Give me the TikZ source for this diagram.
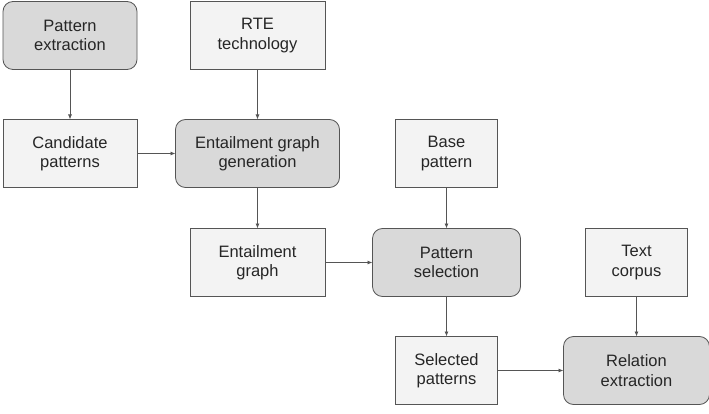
\documentclass[tikz,border=0pt]{standalone}
\usepackage{fontspec}
\setmainfont{Liberation Sans}
\usepackage{tikz}
\usetikzlibrary{positioning, arrows.meta}

\definecolor{stepgray}{HTML}{D9D9D9}
\definecolor{datagray}{HTML}{F3F3F3}
\definecolor{linegray}{HTML}{555555}

\tikzset{
    stepbox/.style={draw=linegray, line width=0.8pt, outer sep=0pt, rounded corners=10pt, fill=stepgray, minimum height=68pt, align=center, font=\fontsize{16.5}{19.5}\selectfont, text=black!85},
    databox/.style={draw=linegray, line width=0.8pt, outer sep=0pt, fill=datagray, minimum height=68pt, align=center, font=\fontsize{16.5}{19.5}\selectfont, text=black!85},
    flow/.style={-{Latex[length=5pt,width=4pt]}, draw=linegray, line width=0.8pt}
}

\begin{document}
\begin{tikzpicture}
            \useasboundingbox (0,0) rectangle (709pt,-414pt);
            \node[stepbox, minimum width=134pt] (extract) at (70pt,-35.5pt) {Pattern\\extraction};
            \node[databox, minimum width=135pt, right=53pt of extract] (rte) {RTE\\technology};
            \node[databox, minimum width=134pt, below=50pt of extract] (cand) {Candidate\\patterns};
            \node[stepbox, minimum width=164pt, below=50pt of rte] (gen) {Entailment graph\\generation};
            \node[databox, minimum width=102pt, right=56pt of gen] (base) {Base\\pattern};
            \node[databox, minimum width=135pt, below=41pt of gen] (egraph) {Entailment\\graph};
            \node[stepbox, minimum width=148pt, below=41pt of base] (select) {Pattern\\selection};
            \node[databox, minimum width=102pt, right=65pt of select] (corpus) {Text\\corpus};
            \node[databox, minimum width=102pt, below=40pt of select] (chosen) {Selected\\patterns};
            \node[stepbox, minimum width=146pt, below=40pt of corpus] (relext) {Relation\\extraction};
            \draw[flow] (extract) -- (cand);
            \draw[flow] (rte) -- (gen);
            \draw[flow] (cand) -- (gen);
            \draw[flow] (gen) -- (egraph);
            \draw[flow] (egraph) -- (select);
            \draw[flow] (base) -- (select);
            \draw[flow] (select) -- (chosen);
            \draw[flow] (corpus) -- (relext);
            \draw[flow] (chosen) -- (relext);
        \end{tikzpicture}
\end{document}
